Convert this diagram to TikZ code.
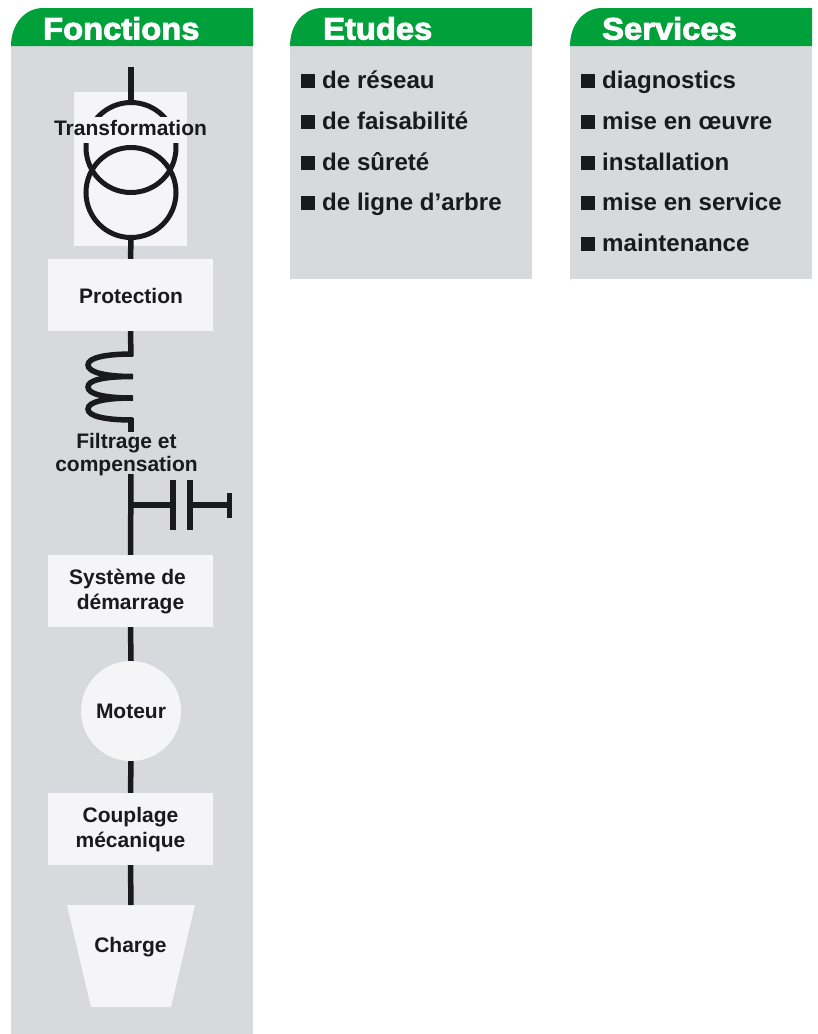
\documentclass[tikz,border=0pt]{standalone}
\usepackage{fontspec}
\setmainfont{Liberation Sans}[BoldFont={Liberation Sans Bold}]
\newfontfamily\headfont{Liberation Sans Bold}[FakeStretch=1.055,FakeBold=3]
\definecolor{panelgray}{HTML}{D8D9DD}
\definecolor{boxwhite}{HTML}{F5F5F7}
\definecolor{headgreen}{HTML}{00A03A}
\definecolor{inkblack}{HTML}{1A1A1E}
\tikzset{
  x=1pt,y=-1pt,
  wire/.style={draw=inkblack,line width=5.5pt},
  panelbody/.style={fill=panelgray,draw=none},
  panelhead/.style={fill=headgreen,draw=none},
  headtext/.style={font=\headfont\fontsize{31}{31}\selectfont,text=white,anchor=base west,inner sep=0pt},
  listtext/.style={font=\bfseries\fontsize{24.1}{24}\selectfont,text=inkblack,anchor=base west,inner sep=0pt},
  labeltext/.style={font=\bfseries\fontsize{21}{25}\selectfont,text=inkblack,align=center,inner sep=0pt},
  funcbox/.style={fill=boxwhite,minimum width=165pt,minimum height=72pt,inner sep=0pt},
  bulletsq/.style={fill=inkblack,draw=none,minimum size=14pt,inner sep=0pt},
}
\newcommand{\panel}[4]{%
  \fill[panelbody] (#1,46) rectangle (#1+242,#2);
  \fill[panelhead] (#1,46) .. controls (#1,24) and (#1+14,8) .. (#1+32,8) -- (#1+242,8) -- (#1+242,46) -- cycle;
  \node[headtext] (#3) at (#1+#4,39.5) {\csname hd#3\endcsname};
}
\newcommand{\hdfonctions}{Fonctions}
\newcommand{\hdetudes}{Etudes}
\newcommand{\hdservices}{Services}
\begin{document}
\begin{tikzpicture}
\useasboundingbox (0,0) rectangle (818,1034);
\panel{11}{1034}{fonctions}{32}
\panel{290}{279}{etudes}{33}
\panel{570}{279}{services}{32}
% transformer
\node[fill=boxwhite,minimum width=113pt,minimum height=154pt,inner sep=0pt] (trbox) at (130.5,169) {};
\coordinate (feed) at (131,67);
\coordinate (trtop) at (131,102);
\draw[wire] (feed) -- (trtop);
\node[circle,draw=inkblack,line width=5pt,minimum size=90pt,inner sep=0pt] (coilA) at (131,147.5) {};
\node[circle,draw=inkblack,line width=5pt,minimum size=90pt,inner sep=0pt] (coilB) at (131,192.5) {};
\fill[boxwhite] (74,117) rectangle (187,142.5);
\node[labeltext] (transfo) at (130.5,128) {Transformation};
% protection
\node[funcbox] (protection) at (130.5,295) {};
\node[labeltext] (prottext) at (131,296) {Protection};
\draw[wire] (coilB.south) -- (protection.north);
% inductor
\coordinate (indtop) at (131,356);
\coordinate (indbot) at (131,418);
\draw[wire] (protection.south) -- (indtop);
\draw[wire,line cap=butt] (133,354) .. controls (104,354) and (88,358) .. (88,365)
  .. controls (88,372) and (104,376.5) .. (133,376.5)
  .. controls (104,376.5) and (88,380) .. (88,387)
  .. controls (88,394) and (104,398) .. (133,398)
  .. controls (104,398) and (88,402) .. (88,409)
  .. controls (88,416) and (104,420) .. (133,420);
\node[labeltext,font=\bfseries\fontsize{21}{23}\selectfont] (filtrage) at (126.5,455) {Filtrage et\\compensation};
\coordinate (filtertop) at (131,432);
\draw[wire] (indbot) -- (filtertop);
% starter
\node[funcbox] (demarrage) at (130.5,591) {};
\node[labeltext] (demtext) at (130.5,592) {Système de\hspace*{6pt}\\démarrage};
\coordinate (linestart) at (131,474);
\draw[wire] (linestart) -- (demarrage.north);
% capacitor
\coordinate (tap) at (131,505);
\coordinate (plateA) at (173,505);
\coordinate (plateB) at (190,505);
\coordinate (capend) at (229.5,505);
\draw[wire] (tap) -- (plateA);
\draw[wire] (plateA |- 0,480) -- (plateA |- 0,530);
\draw[wire] (plateB |- 0,480) -- (plateB |- 0,530);
\draw[wire] (plateB) -- (capend);
\draw[wire] (capend |- 0,493) -- (capend |- 0,518);
% motor
\node[labeltext,circle,fill=boxwhite,minimum size=100pt] (moteur) at (131,711) {Moteur};
\draw[wire] (demarrage.south) -- (moteur.north);
% coupling
\node[funcbox] (couplage) at (130.5,829) {};
\node[labeltext] (couptext) at (130.5,829.5) {Couplage\\mécanique};
\draw[wire] (moteur.south) -- (couplage.north);
% load
\fill[boxwhite] (67,905) -- (195,905) -- (171,1007) -- (91,1007) -- cycle;
\node[labeltext] (charge) at (130.5,947) {Charge};
\coordinate (loadtop) at (131,905);
\draw[wire] (couplage.south) -- (loadtop);
% lists
\foreach \nm/\yy/\tx in {a/88/de réseau,b/129/de faisabilité,c/170/de sûreté,d/210/de ligne d’arbre}{
  \node[bulletsq] (e\nm) at (308,\yy-7.2) {};
  \node[listtext] (et\nm) at (322,\yy) {\tx};
}
\foreach \nm/\yy/\tx in {a/88/diagnostics,b/129/mise en œuvre,c/170/installation,d/210/mise en service,e/251/maintenance}{
  \node[bulletsq] (s\nm) at (588,\yy-7.2) {};
  \node[listtext] (st\nm) at (602,\yy) {\tx};
}
\end{tikzpicture}
\end{document}
